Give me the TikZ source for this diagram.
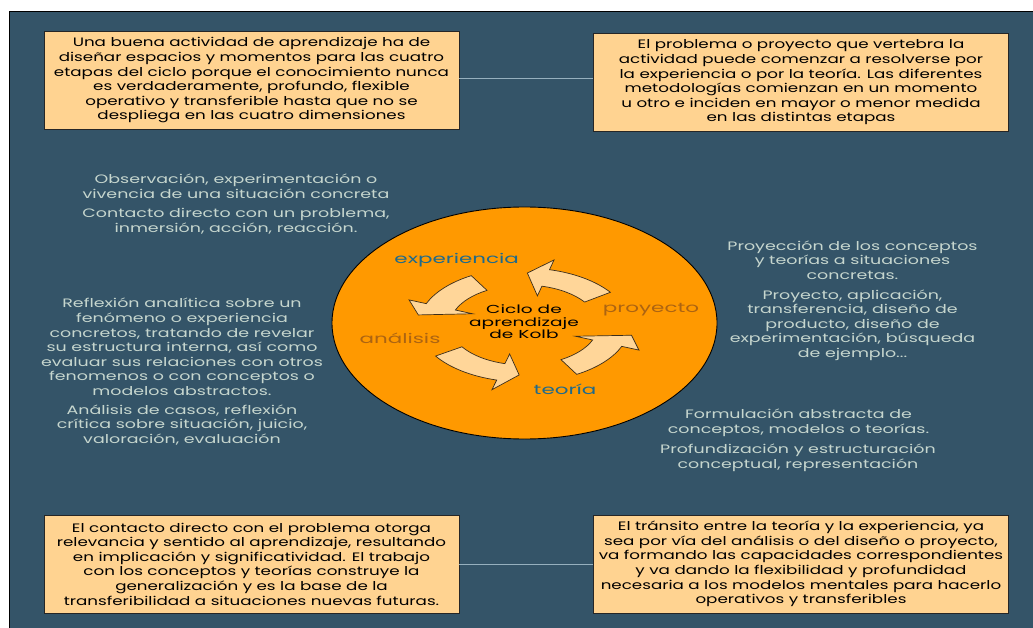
\documentclass[tikz,border=0pt]{standalone}
\usepackage{fontspec}
\setmainfont[FakeStretch=1.6]{Poppins}
\newfontfamily\boxfont[FakeStretch=1.37]{Poppins}
\newfontfamily\plainfont[FakeStretch=1.43]{Poppins}
\usetikzlibrary{shapes.geometric}
\definecolor{bgblue}{RGB}{52,84,104}
\definecolor{boxfill}{RGB}{255,211,145}
\definecolor{lighttext}{RGB}{198,214,206}
\definecolor{orangec}{RGB}{255,153,0}
\definecolor{arrfill}{RGB}{255,214,153}
\definecolor{labblue}{RGB}{30,106,140}
\definecolor{labbrown}{RGB}{172,100,18}
\definecolor{connc}{RGB}{150,176,190}
\definecolor{arrline}{RGB}{60,45,25}
\newcommand{\kolbarrow}[4]{%
  \draw[kolbarr] (#1:57) arc[start angle=#1, end angle=#2, radius=57] -- (#2:67) -- (#3:#4) -- (#2:30) -- (#2:40) arc[start angle=#2, end angle=#1, radius=40] -- cycle;}
\begin{document}
\begin{tikzpicture}[x=1pt,y=1pt,
  notebox/.style={draw=black!85, line width=0.9pt, fill=boxfill, minimum width=415pt, minimum height=98pt, inner sep=0pt, align=center, font=\boxfont\fontsize{12.2}{14.6}\selectfont, text=black},
  plain/.style={align=center, text=lighttext, font=\plainfont\fontsize{12.2}{14.6}\selectfont, inner sep=0pt},
  stage/.style={font=\fontsize{13.4}{15}\selectfont, inner sep=0pt},
  conn/.style={draw=connc, line width=0.9pt},
  kolbarr/.style={fill=arrfill, draw=arrline, line width=0.7pt, line join=miter}]
\useasboundingbox (0,0) rectangle (1033,-628);
\fill[white] (0,0) rectangle (1033,-628);
\draw[black, line width=1pt, fill=bgblue] (9,-12) rectangle (1040,-640);

\node[notebox] (tl) at (251.5,-80.5) {Una buena actividad de aprendizaje ha de\\diseñar espacios y momentos para las cuatro\\etapas del ciclo porque el conocimiento nunca\\es verdaderamente, profundo, flexible\\operativo y transferible hasta que no se\\despliega en las cuatro dimensiones};
\node[notebox] (tr) at (801,-82.5) {El problema o proyecto que vertebra la\\actividad puede comenzar a resolverse por\\la experiencia o por la teoría. Las diferentes\\metodologías comienzan en un momento\\u otro e inciden en mayor o menor medida\\en las distintas etapas};
\node[notebox] (bl) at (251.5,-564) {El contacto directo con el problema otorga\\relevancia y sentido al aprendizaje, resultando\\en implicación y significatividad. El trabajo\\con los conceptos y teorías construye la\\generalización y es la base de la\\transferibilidad a situaciones nuevas futuras.};
\node[notebox] (br) at (801,-564) {El tránsito entre la teoría y la experiencia, ya\\sea por vía del análisis o del diseño o proyecto,\\va formando las capacidades correspondientes\\y va dando la flexibilidad y profundidad\\necesaria a los modelos mentales para hacerlo\\operativos y transferibles};

\draw[conn] ([yshift=2.5pt]tl.east) -- ([yshift=2.5pt]tl.east -| tr.west);
\draw[conn] (bl.east) -- (br.west);

\node[plain] (obsA) at (236,-186.5) {Observación, experimentación o\\vivencia de una situación concreta};
\node[plain] (obsB) at (236,-221) {Contacto directo con un problema,\\inmersión, acción, reacción.};
\node[plain] (refA) at (182,-347) {Reflexión analítica sobre un\\fenómeno o experiencia\\concretos, tratando de revelar\\su estructura interna, así como\\evaluar sus relaciones con otros\\fenomenos o con conceptos o\\modelos abstractos.};
\node[plain] (refB) at (182,-425) {Análisis de casos, reflexión\\crítica sobre situación, juicio,\\valoración, evaluación};
\node[plain] (proA) at (852.5,-260) {Proyección de los conceptos\\y teorías a situaciones\\concretas.};
\node[plain] (proB) at (852.5,-325) {Proyecto, aplicación,\\transferencia, diseño de\\producto, diseño de\\experimentación, búsqueda\\de ejemplo...};
\node[plain] (forA) at (798.5,-422.5) {Formulación abstracta de\\conceptos, modelos o teorías.};
\node[plain] (forB) at (798,-458) {Profundización y estructuración\\conceptual, representación};

\node[ellipse, draw=black, line width=0.9pt, fill=orangec, minimum width=385pt, minimum height=232pt, inner sep=0pt] (kolb) at (524.5,-323) {};

\begin{scope}[shift={(524,-325)}, xscale=1.85]
  \kolbarrow{35}{76}{88}{52}
  \kolbarrow{120}{158}{170}{58}
  \kolbarrow{213}{255}{267}{50}
  \kolbarrow{300}{338}{350}{59}
\end{scope}

\node[stage, text=labblue] (exp) at (456.7,-260) {experiencia};
\node[stage, text=labbrown] (ana) at (400,-338.3) {análisis};
\node[stage, text=labbrown] (pro) at (651,-310) {proyecto};
\node[stage, text=labblue] (teo) at (565,-389.3) {teoría};
\node[font=\fontsize{11.6}{12.8}\selectfont, align=center, inner sep=0pt] (title) at (524,-321.7) {Ciclo de\\aprendizaje\\de Kolb};
\end{tikzpicture}
\end{document}
